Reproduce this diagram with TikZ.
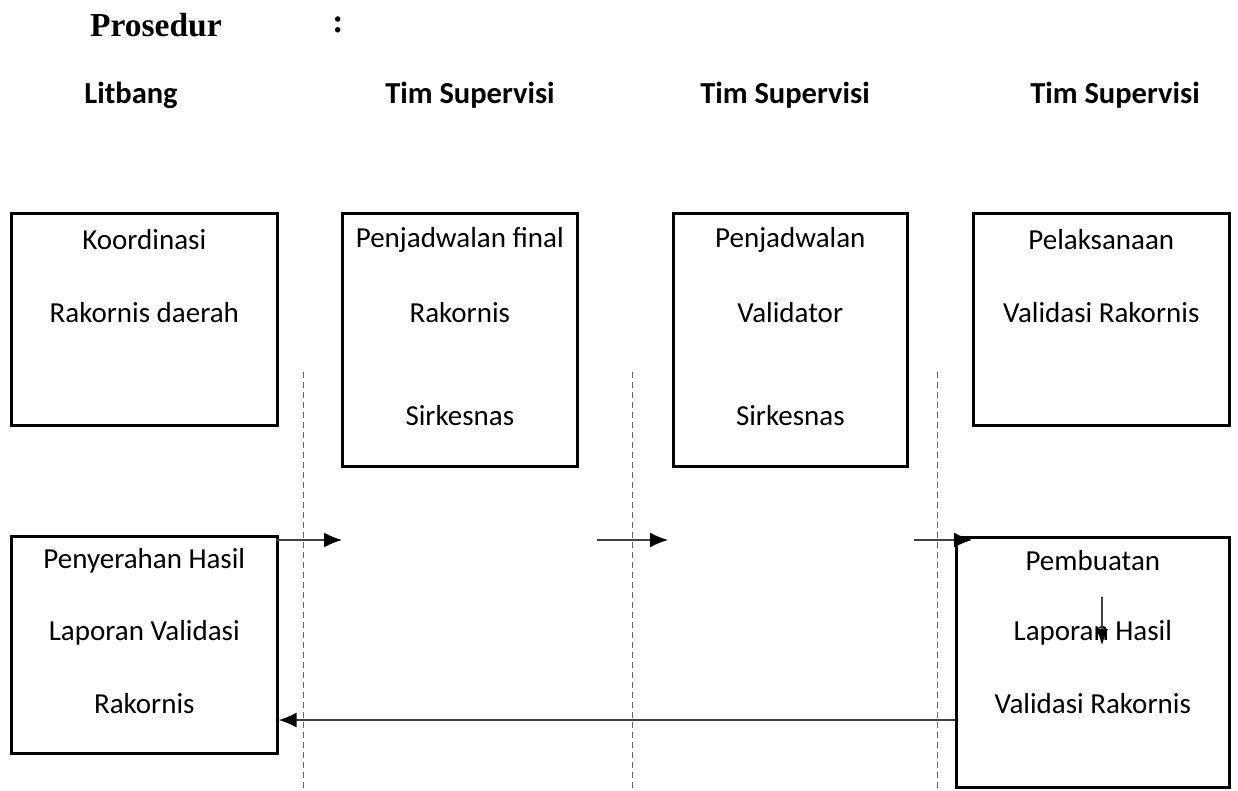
\documentclass[tikz,border=0pt]{standalone}
\usepackage{fontspec}
\setmainfont{Carlito}
\newfontfamily\tnr{Liberation Serif}
\usetikzlibrary{arrows.meta,calc}
\begin{document}
\begin{tikzpicture}[x=1pt,y=-1pt,
  box/.style={draw,line width=2.6pt,inner sep=0pt,anchor=north west},
  txt/.style={font=\fontsize{29}{34}\selectfont,inner sep=0pt},
  hdr/.style={font=\fontsize{30.5}{34}\selectfont\bfseries,inner sep=0pt},
  ttl/.style={font=\tnr\fontsize{33.5}{38}\selectfont\bfseries,inner sep=0pt},
  lane/.style={dash pattern=on 6pt off 4pt,line width=1pt,draw=black!60},
  flow/.style={line width=1.4pt,draw=black!75,-{Latex[length=18pt,width=15pt,color=black]}}]
\useasboundingbox (0,0) rectangle (1238,791);
% title
\node[ttl,anchor=west] (ttl) at (90,25) {Prosedur};
\node[ttl] (colon) at (338,25) {:};
% headers
\node[hdr] (h1) at (131,95) {Litbang};
\node[hdr] (h2) at (470,95) {Tim Supervisi};
\node[hdr] (h3) at (785,95) {Tim Supervisi};
\node[hdr] (h4) at (1115,95) {Tim Supervisi};
% top boxes
\node[box,minimum width=266,minimum height=212] (b1) at (10,212) {};
\node[box,minimum width=235,minimum height=253] (b2) at (341,212) {};
\node[box,minimum width=234,minimum height=253] (b3) at (672,212) {};
\node[box,minimum width=256,minimum height=212] (b4) at (972,212) {};
% bottom boxes
\node[box,minimum width=266,minimum height=217] (b5) at (10,535) {};
\node[box,minimum width=273,minimum height=250] (b6) at (955,536) {};
% texts
\node[txt] (t11) at (b1.center |- 0,240) {Koordinasi};
\node[txt] (t12) at (b1.center |- 0,313) {Rakornis daerah};
\node[txt] (t21) at (b2.center |- 0,240) {Penjadwalan final};
\node[txt] (t22) at (b2.center |- 0,313) {Rakornis};
\node[txt] (t23) at (b2.center |- 0,416) {Sirkesnas};
\node[txt] (t31) at (b3.center |- 0,240) {Penjadwalan};
\node[txt] (t32) at (b3.center |- 0,313) {Validator};
\node[txt] (t33) at (b3.center |- 0,416) {Sirkesnas};
\node[txt] (t41) at (b4.center |- 0,240) {Pelaksanaan};
\node[txt] (t42) at (b4.center |- 0,313) {Validasi Rakornis};
\node[txt] (t51) at (b5.center |- 0,561) {Penyerahan Hasil};
\node[txt] (t52) at (b5.center |- 0,633) {Laporan Validasi};
\node[txt] (t53) at (b5.center |- 0,704) {Rakornis};
\node[txt] (t61) at (b6.center |- 0,561) {Pembuatan};
\node[txt] (t62) at (b6.center |- 0,633) {Laporan Hasil};
\node[txt] (t63) at (b6.center |- 0,704) {Validasi Rakornis};
% lanes
\coordinate (l1t) at (303,372); \coordinate (l1b) at (303,791);
\coordinate (l2t) at (632,372); \coordinate (l2b) at (632,791);
\coordinate (l3t) at (937,372); \coordinate (l3b) at (937,791);
\draw[lane] (l1t) -- (l1b);
\draw[lane] (l2t) -- (l2b);
\draw[lane] (l3t) -- (l3b);
% arrows
\coordinate (a1s) at (276,540); \coordinate (a1e) at (342,540);
\coordinate (a2s) at (597,540); \coordinate (a2e) at (668,540);
\coordinate (a3s) at (914,540); \coordinate (a3e) at (972,540);
\draw[flow] (a1s) -- (a1e);
\draw[flow] (a2s) -- (a2e);
\draw[flow] (a3s) -- (a3e);
\coordinate (a4s) at (b6.west |- 0,720);
\coordinate (a4e) at (b5.east |- 0,720);
\draw[flow] (a4s) -- (a4e);
\coordinate (a5s) at (1102,597); \coordinate (a5e) at (1102,645);
\draw[flow,line width=1.1pt,-{Latex[length=16pt,width=12pt,color=black]}] (a5s) -- (a5e);
\end{tikzpicture}
\end{document}
